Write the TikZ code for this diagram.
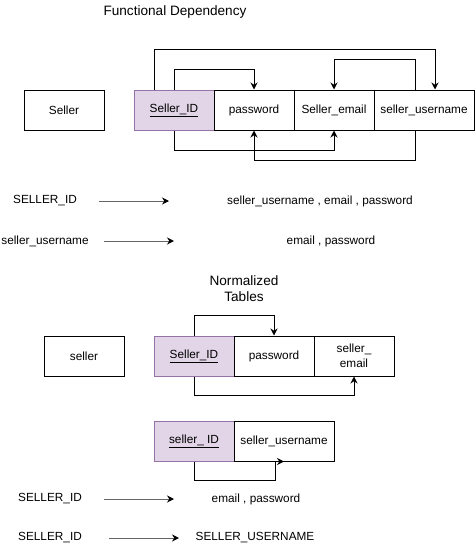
\documentclass[tikz,border=0pt]{standalone}
\usepackage{fontspec}
\setmainfont{Liberation Sans}
\usetikzlibrary{arrows.meta,calc}
\definecolor{keyfill}{HTML}{E1D5E7}
\definecolor{keyline}{HTML}{9673A6}
\definecolor{linegray}{HTML}{666666}

\begin{document}
\begin{tikzpicture}[x=1pt,y=-1pt,
        every node/.style={font=\fontsize{11.8}{14.5}\selectfont},
        heading/.style={font=\fontsize{13.6}{16}\selectfont,align=center},
        cell/.style={draw,line width=1pt,minimum height=40pt,inner sep=0pt,align=center},
        keycell/.style={cell,draw=keyline,fill=keyfill},
        conn/.style={line width=1pt,-{Stealth[length=7pt,width=7pt]}},
        fdarrow/.style={draw=linegray,line width=1pt,-{Stealth[black,length=7pt,width=7pt]}}]
        \useasboundingbox (0,0) rectangle (475,549);

        % functional dependency
        \node[heading] (title1) at (175,12) {Functional Dependency};
        \node[cell,minimum width=80pt] (seller1) at (64,110) {Seller};
        \node[keycell,minimum width=80pt] (sid1) at (174,110) {\underline{Seller\_ID}};
        \node[cell,minimum width=80pt] (pw1) at (254,110) {password};
        \node[cell,minimum width=80pt] (se1) at (334,110) {Seller\_email};
        \node[cell,minimum width=100pt] (su1) at (424,110) {seller\_username};

        \draw[conn] ($(sid1.north)+(-20,0)$) -- ++(0,-40) -| ($(su1.north)+(11,0)$);
        \draw[conn] (sid1.north) -- ++(0,-20) -| (pw1.north);
        \draw[conn] ($(su1.north)+(-9,0)$) -- ++(0,-30) -| (se1.north);
        \draw[conn] (sid1.south) -- ++(0,20) -| (se1.south);
        \draw[conn] ($(su1.south)+(-9,0)$) -- ++(0,30) -| (pw1.south);

        \node (lhs1) at (45,201) {SELLER\_ID};
        \coordinate (a1s) at (99,201);
        \coordinate (a1e) at (169,201);
        \draw[fdarrow] (a1s) -- (a1e);
        \node (rhs1) at (320,201) {seller\_username , email , password};

        \node (lhs2) at (45,241) {seller\_username};
        \coordinate (a2s) at (104,241);
        \coordinate (a2e) at (174,241);
        \draw[fdarrow] (a2s) -- (a2e);
        \node (rhs2) at (331,241) {email , password};

        % normalized tables
        \node[heading] (title2) at (244,289) {Normalized\\Tables};
        \node[cell,minimum width=80pt] (seller2) at (84,356) {seller};
        \node[keycell,minimum width=80pt] (sid2) at (194,356) {\underline{Seller\_ID}};
        \node[cell,minimum width=80pt] (pw2) at (274,356) {password};
        \node[cell,minimum width=80pt] (se2) at (354,356) {seller\_\\email};

        \draw[conn] (sid2.north) -- ++(0,-20) -| (pw2.north);
        \draw[conn] (sid2.south) -- ++(0,19) -| (se2.south);

        \node[keycell,minimum width=80pt] (sid3) at (194,441) {\underline{seller\_ ID}};
        \node[cell,minimum width=100pt] (su3) at (284,441) {seller\_username};
        \draw[conn] (sid3.south) -- ++(0,19) -| ($(su3.south)+(-9,0)$) -- (su3.south);

        \node (lhs3) at (50,499) {SELLER\_ID};
        \coordinate (a3s) at (104,499);
        \coordinate (a3e) at (174,499);
        \draw[fdarrow] (a3s) -- (a3e);
        \node (rhs3) at (256,499) {email , password};

        \node (lhs4) at (50,538) {SELLER\_ID};
        \coordinate (a4s) at (109,538);
        \coordinate (a4e) at (179,538);
        \draw[fdarrow] (a4s) -- (a4e);
        \node (rhs4) at (255,538) {SELLER\_USERNAME};
\end{tikzpicture}
\end{document}
